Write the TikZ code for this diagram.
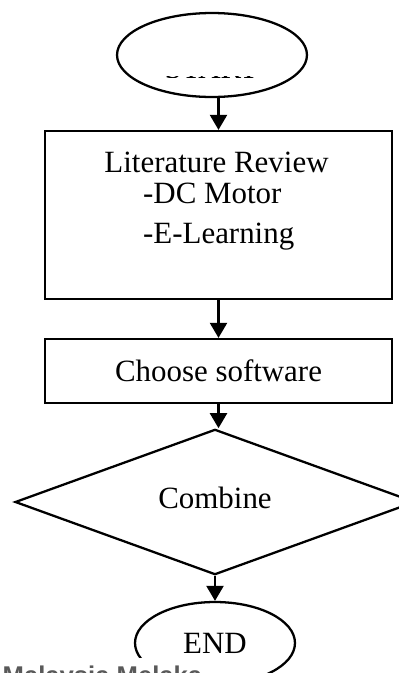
\documentclass[tikz,border=0pt]{standalone}
\usepackage{fontspec}
\setmainfont{Liberation Serif}
\setsansfont{Liberation Sans}
\usetikzlibrary{positioning, arrows.meta, shapes.geometric}

\begin{document}
\begin{tikzpicture}[x=0.02cm, y=-0.02cm, line width=1.3pt,
		font=\fontsize{17.6}{21}\selectfont,
		flowbox/.style={rectangle, draw, minimum width=6.94cm},
		terminal/.style={ellipse, draw, inner sep=0pt},
		flowarrow/.style={-{Triangle[width=0.34cm,length=0.3cm]}}]
		
		\useasboundingbox (0,0) rectangle (399,673);
		\clip (0,0) rectangle (399,673);
		
		%Nodes of the flow chart
		\node (start) at (212,55) [terminal, minimum width=3.8cm, minimum height=1.68cm] {};
		\begin{scope}
			\clip (150,76.6) rectangle (280,77.8);
			\node (startText) at (211.5,78) [anchor=base, inner sep=0pt] {START};
		\end{scope}
		
		\node (literature) at (218.5,215) [flowbox, minimum height=3.36cm] {};
		\node (literatureTitle) at (216.5,172) [anchor=base, inner sep=0pt] {Literature Review};
		\node (dcMotor) at (142,203) [anchor=base west, inner sep=0pt] {-DC Motor};
		\node (eLearning) at (142,243) [anchor=base west, inner sep=0pt] {-E-Learning};
		
		\node (chooseSoftware) at (218.5,371) [flowbox, minimum height=1.28cm] {Choose software};
		
		\node (combine) at (215,502) [diamond, draw, minimum width=8cm, minimum height=2.36cm, 
		inner sep=0pt, text height=0.45cm, text depth=0.19cm] {Combine};
		
		\node (finish) at (215,643) [terminal, minimum width=3.2cm, minimum height=1.64cm] {END};
		
		\node (watermark) at (-6,684) [anchor=base west, fill=white, inner sep=0.15cm, text=black!65, 
		font=\sffamily\bfseries\fontsize{14.6}{17}\selectfont] {Malaysia Melaka};
		
		\draw[flowarrow] (start.south -| literature.north) -- (literature.north);
		\draw[flowarrow] (literature.south) -- (chooseSoftware.north);
		\draw[flowarrow] (chooseSoftware.south) -- (chooseSoftware.south |- combine.north);
		\draw[flowarrow] (combine.south) -- (finish.north);
		
\end{tikzpicture}
\end{document}
